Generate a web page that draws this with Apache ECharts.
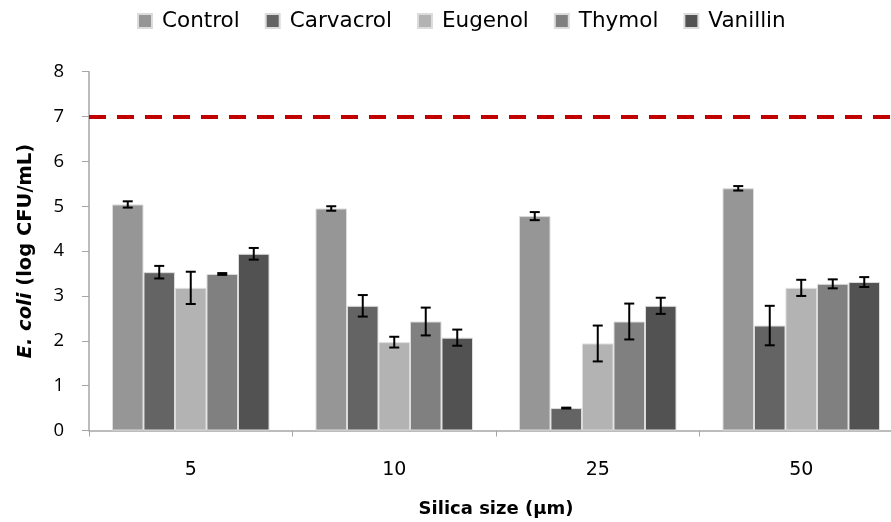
<!DOCTYPE html>
<html>
<head>
<meta charset="utf-8">
<script src="https://cdn.jsdelivr.net/npm/echarts@6/dist/echarts.min.js"></script>
<style>html,body{margin:0;padding:0;background:#fff;overflow:hidden;}#c{width:891px;height:522px;}</style>
</head>
<body>
<div id="c"></div>
<script>
var categories = ['5', '10', '25', '50'];
var seriesNames = ['Control', 'Carvacrol', 'Eugenol', 'Thymol', 'Vanillin'];
var control = [5.04, 4.95, 4.78, 5.40];
var controlErr = [0.07, 0.05, 0.09, 0.05];
var carvacrol = [3.53, 2.78, 0.50, 2.34];
var carvacrolErr = [0.14, 0.24, 0.01, 0.44];
var eugenol = [3.18, 1.97, 1.94, 3.18];
var eugenolErr = [0.36, 0.12, 0.40, 0.18];
var thymol = [3.49, 2.43, 2.43, 3.27];
var thymolErr = [0.02, 0.31, 0.40, 0.10];
var vanillin = [3.94, 2.07, 2.78, 3.31];
var vanillinErr = [0.13, 0.18, 0.18, 0.11];
var thresholdValue = 7;
var yTicks = [0, 1, 2, 3, 4, 5, 6, 7, 8];

var values = [control, carvacrol, eugenol, thymol, vanillin];
var errors = [controlErr, carvacrolErr, eugenolErr, thymolErr, vanillinErr];
var colors = ['#969696', '#646464', '#b3b3b3', '#808080', '#525252'];
var GAP = 0.226;
var FONT = '"DejaVu Sans", "Open Sans", sans-serif';
var NUMFONT = '"Open Sans", "DejaVu Sans", sans-serif';

var series = [];
values.forEach(function (vals, i) {
  var s = {
    name: seriesNames[i],
    type: 'bar',
    data: vals,
    barGap: '0%',
    barCategoryGap: (GAP * 100) + '%',
    itemStyle: { color: colors[i], borderColor: '#dcdcdc', borderWidth: 1 },
    emphasis: { disabled: true }
  };
  if (i === 0) {
    s.markLine = {
      silent: true,
      symbol: ['none', 'none'],
      label: { show: false },
      lineStyle: { color: '#c00000', width: 4, type: [17, 11] },
      data: [{ yAxis: thresholdValue }]
    };
  }
  series.push(s);
});

var errData = [];
values.forEach(function (vals, si) {
  vals.forEach(function (v, ci) {
    errData.push([ci, v, errors[si][ci], si]);
  });
});

series.push({
  type: 'custom',
  z: 10,
  silent: true,
  encode: { x: 0, y: 1 },
  data: errData,
  renderItem: function (params, api) {
    var cat = api.value(0), val = api.value(1), err = api.value(2), si = api.value(3);
    var band = api.size([1, 0])[0];
    var bw = band * (1 - GAP) / 5;
    var c = api.coord([cat, val]);
    var x = c[0] + (si - 2) * bw;
    var top = api.coord([cat, val + err])[1];
    var bot = api.coord([cat, val - err])[1];
    var cap = 5;
    var st = { stroke: '#000', lineWidth: 2 };
    return {
      type: 'group',
      children: [
        { type: 'line', shape: { x1: x, y1: top, x2: x, y2: bot }, style: st },
        { type: 'line', shape: { x1: x - cap, y1: top, x2: x + cap, y2: top }, style: st },
        { type: 'line', shape: { x1: x - cap, y1: bot, x2: x + cap, y2: bot }, style: st }
      ]
    };
  }
});

var chart = echarts.init(document.getElementById('c'), null, { renderer: 'canvas' });
chart.setOption({
  animation: false,
  backgroundColor: '#fff',
  textStyle: { fontFamily: FONT },
  legend: {
    data: seriesNames,
    top: 4,
    left: 132,
    itemWidth: 14,
    itemHeight: 14,
    itemGap: 25,
    icon: 'rect',
    textStyle: { fontSize: 21.5, color: '#000', fontFamily: FONT, padding: [0, 0, 0, 5], lineHeight: 24 }
  },
  grid: { left: 89, width: 814, top: 71.7, bottom: 91.5, containLabel: false, outerBoundsMode: 'none' },
  xAxis: {
    type: 'category',
    data: categories,
    axisLine: { lineStyle: { color: '#a6a6a6', width: 1.5 } },
    axisTick: { show: true, length: 6, lineStyle: { color: '#a6a6a6' } },
    axisLabel: { fontSize: 19, color: '#000', margin: 30, fontFamily: FONT },
    name: 'Silica size (µm)',
    nameLocation: 'middle',
    nameGap: 70,
    nameTextStyle: { fontSize: 18, fontWeight: 'bold', color: '#000', fontFamily: FONT }
  },
  yAxis: {
    type: 'value',
    min: 0,
    max: 8,
    interval: 1,
    axisLine: { show: true, lineStyle: { color: '#a6a6a6', width: 1.5 } },
    axisTick: { show: true, length: 7, lineStyle: { color: '#a6a6a6' } },
    splitLine: { show: false },
    axisLabel: {
      fontSize: 18.5, color: '#000', margin: 25, fontFamily: NUMFONT,
      formatter: function (v) { return yTicks.indexOf(v) >= 0 ? String(v) : ''; }
    },
    name: '{i|E. coli} {b|(log CFU/mL)}',
    nameLocation: 'middle',
    nameGap: 53,
    nameRotate: 90,
    nameTextStyle: {
      fontSize: 19.5, fontWeight: 'bold', color: '#000', fontFamily: FONT,
      rich: {
        i: { fontStyle: 'italic', fontWeight: 'bold', fontSize: 19.5, color: '#000', fontFamily: FONT },
        b: { fontWeight: 'bold', fontSize: 19.5, color: '#000', fontFamily: FONT }
      }
    }
  },
  series: series
});
</script>
</body>
</html>
